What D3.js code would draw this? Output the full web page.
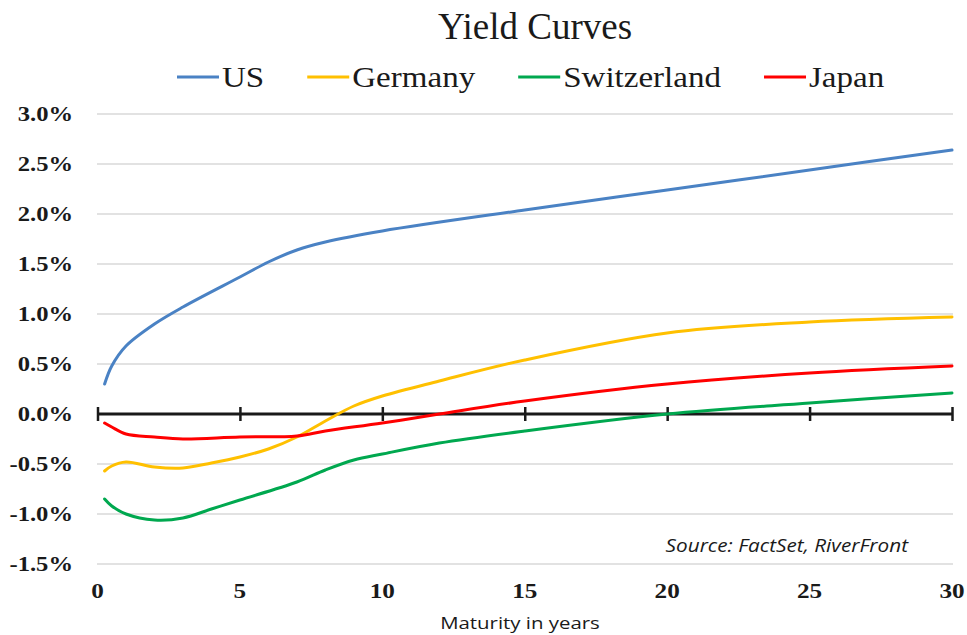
<!DOCTYPE html>
<html>
<head>
<meta charset="utf-8">
<script src="https://cdn.jsdelivr.net/npm/d3@7"></script>
<style>
  html, body { margin: 0; padding: 0; background: #ffffff; }
  svg { display: block; }
</style>
</head>
<body>
<svg id="chart" width="967" height="635"></svg>
<script>
// ---- Data ----
const seriesNames = ["US", "Germany", "Switzerland", "Japan"];
const seriesColors = ["#4a82c4", "#ffc000", "#00a84f", "#ff0000"];

const usMaturities = [0.25, 0.5, 1, 2, 3, 5, 6, 7, 8, 10, 15, 20, 25, 30];
const usYields     = [0.30, 0.48, 0.68, 0.90, 1.07, 1.37, 1.52, 1.64, 1.72, 1.83, 2.04, 2.24, 2.44, 2.64];

const deMaturities = [0.25, 0.5, 1, 2, 3, 4, 5, 6, 7, 8, 9, 10, 12, 15, 20, 25, 30];
const deYields     = [-0.57, -0.52, -0.48, -0.53, -0.54, -0.49, -0.43, -0.35, -0.23, -0.07, 0.08, 0.18, 0.33, 0.54, 0.81, 0.92, 0.97];

const chMaturities = [0.25, 0.5, 1, 2, 3, 4, 5, 7, 8, 9, 10, 12, 15, 20, 25, 30];
const chYields     = [-0.85, -0.92, -1.00, -1.06, -1.04, -0.95, -0.86, -0.68, -0.56, -0.46, -0.40, -0.29, -0.17, 0.00, 0.11, 0.21];

const jpMaturities = [0.25, 0.5, 1, 2, 3, 5, 7, 8, 10, 12, 15, 20, 25, 30];
const jpYields     = [-0.09, -0.13, -0.20, -0.23, -0.25, -0.23, -0.22, -0.17, -0.09, 0.00, 0.13, 0.30, 0.41, 0.48];

const yTicks = [-1.5, -1.0, -0.5, 0.0, 0.5, 1.0, 1.5, 2.0, 2.5, 3.0];
const xTicks = [0, 5, 10, 15, 20, 25, 30];

const titleText = "Yield Curves";
const xAxisTitle = "Maturity in years";
const sourceText = "Source: FactSet, RiverFront";

// ---- Build ----
const series = [
  { name: seriesNames[0], color: seriesColors[0], pts: usMaturities.map((m, i) => [m, usYields[i]]) },
  { name: seriesNames[1], color: seriesColors[1], pts: deMaturities.map((m, i) => [m, deYields[i]]) },
  { name: seriesNames[2], color: seriesColors[2], pts: chMaturities.map((m, i) => [m, chYields[i]]) },
  { name: seriesNames[3], color: seriesColors[3], pts: jpMaturities.map((m, i) => [m, jpYields[i]]) }
];

const svg = d3.select("#chart");
const serif = "'Liberation Serif', 'Times New Roman', serif";
const sans = "'Open Sans', 'Noto Sans', sans-serif";

const x = d3.scaleLinear().domain([0, 30]).range([97.5, 952]);
const y = d3.scaleLinear().domain([-1.5, 3]).range([564, 114]);

// gridlines
svg.append("g").selectAll("line").data(yTicks).join("line")
  .attr("x1", 97).attr("x2", 953)
  .attr("y1", d => y(d)).attr("y2", d => y(d))
  .attr("stroke", "#d9d9d9").attr("stroke-width", 1.6);

// y tick labels
const stretch = 1.2;
svg.append("g").selectAll("text").data(yTicks).join("text")
  .attr("transform", d => `translate(73,${y(d) + 7}) scale(${stretch},1)`)
  .attr("text-anchor", "end")
  .attr("font-family", serif).attr("font-weight", "bold").attr("font-size", 20.5)
  .attr("fill", "#1a1a1a")
  .text(d => d.toFixed(1) + "%");

// x tick labels
svg.append("g").selectAll("text").data(xTicks).join("text")
  .attr("transform", d => `translate(${x(d)},598) scale(${stretch},1)`)
  .attr("text-anchor", "middle")
  .attr("font-family", serif).attr("font-weight", "bold").attr("font-size", 21)
  .attr("fill", "#1a1a1a")
  .text(d => d);

// zero axis with ticks
const axis = d3.axisBottom(x).tickValues(xTicks).tickSize(0).tickFormat("");
const axG = svg.append("g").attr("transform", `translate(0,${y(0)})`).call(axis);
axG.select(".domain").attr("stroke", "#1a1a1a").attr("stroke-width", 3).attr("d", `M${x(0)},0H${x(30)}`);
axG.selectAll(".tick line").attr("y1", -7).attr("y2", 7).attr("stroke", "#1a1a1a").attr("stroke-width", 2.5);

// lines
const line = d3.line().x(d => x(d[0])).y(d => y(d[1])).curve(d3.curveCatmullRom.alpha(0.5));
svg.append("g").selectAll("path").data(series).join("path")
  .attr("d", d => line(d.pts))
  .attr("fill", "none")
  .attr("stroke", d => d.color)
  .attr("stroke-width", 3)
  .attr("stroke-linecap", "round")
  .attr("stroke-linejoin", "round");

// title
svg.append("text")
  .attr("x", 535).attr("y", 39)
  .attr("text-anchor", "middle")
  .attr("font-family", serif).attr("font-size", 37)
  .attr("fill", "#1a1a1a")
  .text(titleText);

// legend
const legStretch = 1.14;
let lx = 177;
const legY = 77;
series.forEach(s => {
  svg.append("line")
    .attr("x1", lx).attr("x2", lx + 42)
    .attr("y1", legY).attr("y2", legY)
    .attr("stroke", s.color).attr("stroke-width", 3);
  const t = svg.append("text")
    .attr("transform", `translate(${lx + 45},${legY + 10}) scale(${legStretch},1)`)
    .attr("font-family", serif).attr("font-size", 29)
    .attr("fill", "#1a1a1a")
    .text(s.name);
  const w = t.node().getComputedTextLength() * legStretch;
  lx = lx + 45 + w + 43;
});

// x axis title
svg.append("text")
  .attr("transform", "translate(520,629) scale(1.2,1)")
  .attr("text-anchor", "middle")
  .attr("font-family", sans).attr("font-size", 17)
  .attr("fill", "#1a1a1a")
  .text(xAxisTitle);

// source note
svg.append("text")
  .attr("transform", "translate(908,552) scale(1.2,1)")
  .attr("text-anchor", "end")
  .attr("font-family", sans).attr("font-style", "italic").attr("font-size", 17.3)
  .attr("fill", "#1a1a1a")
  .text(sourceText);
</script>
</body>
</html>
